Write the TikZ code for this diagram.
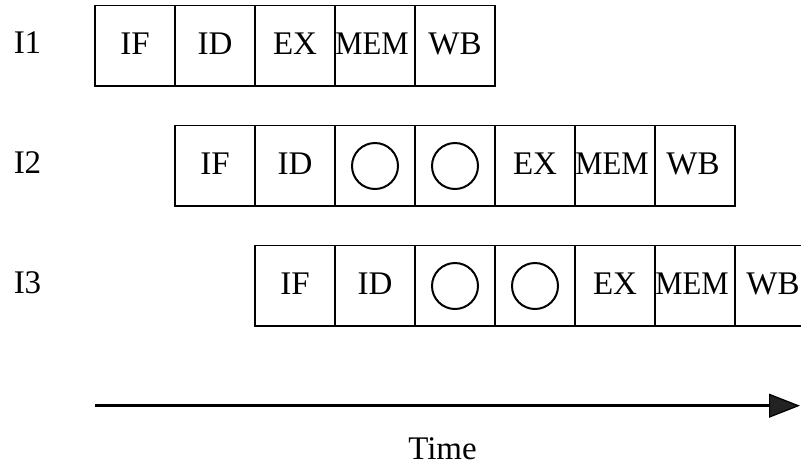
\documentclass[tikz,border=0pt]{standalone}
\usepackage{fontspec}
\usepackage{graphicx}
\setmainfont{Liberation Serif}
\usetikzlibrary{arrows.meta}
\definecolor{tipfill}{HTML}{222222}
\begin{document}
\begin{tikzpicture}[x=1pt,y=-1pt,
  cell/.style={rectangle,draw=black,line width=1.4pt,minimum width=80pt,minimum height=80.5pt,inner sep=0pt},
  txt/.style={font=\fontsize{33}{38}\selectfont,inner sep=0pt},
  bubble/.style={circle,draw=black,line width=2pt,minimum size=46pt,inner sep=0pt},
  rowlabel/.style={font=\fontsize{33}{38}\selectfont,inner sep=0pt}
]
\useasboundingbox (0,0) rectangle (801,467);
% row 1
\foreach \i in {0,...,4}{
  \node[cell] (a\i) at (135+80*\i,45.75) {};
}
\node[txt] (a0t) at (135,44) {IF};
\node[txt] (a1t) at (215,44) {ID};
\node[txt] (a2t) at (295,44) {EX};
\node[txt] (a3t) at (372,44) {\scalebox{0.93}[1]{MEM}};
\node[txt] (a4t) at (455,44) {WB};
% row 2
\foreach \i in {0,...,6}{
  \node[cell] (b\i) at (215+80*\i,165.7) {};
}
\node[txt] (b0t) at (215,164) {IF};
\node[txt] (b1t) at (295,164) {ID};
\node[bubble] (b2c) at (375,166) {};
\node[bubble] (b3c) at (455,166) {};
\node[txt] (b4t) at (535,164) {EX};
\node[txt] (b5t) at (612,164) {\scalebox{0.93}[1]{MEM}};
\node[txt] (b6t) at (693,164) {WB};
% row 3
\foreach \i in {0,...,6}{
  \node[cell] (c\i) at (295+80*\i,285.7) {};
}
\node[txt] (c0t) at (295,284) {IF};
\node[txt] (c1t) at (375,284) {ID};
\node[bubble] (c2c) at (455,286) {};
\node[bubble] (c3c) at (535,286) {};
\node[txt] (c4t) at (615,284) {EX};
\node[txt] (c5t) at (692,284) {\scalebox{0.93}[1]{MEM}};
\node[txt] (c6t) at (773,284) {WB};
% labels
\node[rowlabel] (l1) at (27.5,43) {I1};
\node[rowlabel] (l2) at (27.5,163) {I2};
\node[rowlabel] (l3) at (27.5,283) {I3};
% time arrow
\coordinate (t0) at (95,405.7);
\coordinate (t1) at (800,405.7);
\draw[line width=3pt,-{Triangle[length=31pt,width=24pt,fill=tipfill,line width=1.2pt]}] (t0) -- (t1);
\node[rowlabel] (time) at (442.5,448.5) {Time};
\end{tikzpicture}
\end{document}
